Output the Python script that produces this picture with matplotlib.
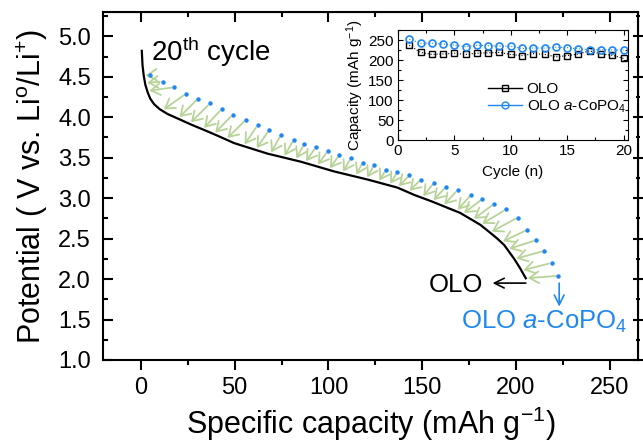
"""20th-cycle discharge curves of OLO with and without a-CoPO4 coating, plus cycling inset."""

import matplotlib

matplotlib.use("Agg")

import matplotlib.pyplot as plt
import numpy as np
from matplotlib.lines import Line2D
from matplotlib.patches import FancyArrowPatch
from matplotlib.ticker import FormatStrFormatter, MultipleLocator

plt.rcParams["font.family"] = "Liberation Sans"
plt.rcParams["mathtext.fontset"] = "custom"
plt.rcParams["mathtext.rm"] = "Liberation Sans"
plt.rcParams["mathtext.it"] = "Liberation Sans:italic"
plt.rcParams["mathtext.bf"] = "Liberation Sans:bold"

# 20th discharge, bare OLO (black line)
olo_capacity = [0.5, 0.9, 1.5, 2.4, 3.6, 5.0, 7.1, 10.0, 14.2, 20.0, 26.7, 35.0, 42.0,
                49.7, 67.5, 85.3, 103.0, 120.8, 136.8, 145.7, 155.0, 163.5, 170.0, 175.9,
                181.0, 185.8, 190.0, 193.7, 196.5, 199.0, 202.0, 205.2]
olo_voltage = [4.82, 4.64, 4.52, 4.40, 4.31, 4.23, 4.16, 4.10, 4.04, 3.98, 3.91, 3.83, 3.76,
               3.68, 3.55, 3.45, 3.33, 3.23, 3.13, 3.04, 2.96, 2.88, 2.82, 2.74,
               2.67, 2.58, 2.50, 2.42, 2.33, 2.25, 2.14, 2.01]

# 20th discharge, a-CoPO4 coated OLO (blue dots)
coated_capacity = [5.0, 11.6, 17.8, 24.0, 30.5, 36.8, 43.0, 48.9, 56.0, 62.2, 68.4, 74.6,
                   81.4, 87.0, 93.3, 99.5, 105.7, 111.9, 118.2, 124.4, 130.6, 136.8, 143.0,
                   149.2, 156.3, 162.6, 168.8, 175.9, 182.1, 188.3, 194.6, 200.8, 206.1,
                   210.6, 215.0, 218.9, 222.6]
coated_voltage = [4.52, 4.44, 4.37, 4.29, 4.23, 4.17, 4.10, 4.03, 3.97, 3.90, 3.84, 3.78,
                  3.72, 3.67, 3.63, 3.58, 3.53, 3.49, 3.44, 3.41, 3.35, 3.32, 3.28,
                  3.23, 3.19, 3.14, 3.10, 3.04, 2.99, 2.93, 2.86, 2.76, 2.61,
                  2.48, 2.35, 2.20, 2.04]

# inset: discharge capacity vs cycle
cycles = list(range(1, 21))
olo_cycling = [237, 219, 214, 215, 217, 214, 217, 218, 219, 214,
               211, 216, 214, 208, 211, 215, 223, 215, 212, 204]
coated_cycling = [252, 242, 242, 240, 237, 233, 237, 236, 235, 234,
                  229, 230, 230, 232, 231, 228, 226, 226, 225, 225]

BLUE = "#1e88f0"
GREEN = "#b8d398"


def _draw_shift_arrows(axis, start_x, start_y, curve_x, curve_y, y_weight=1.5):
    to_pixels = axis.transData
    curve = to_pixels.transform(np.column_stack([curve_x, curve_y]))
    dense = np.vstack(
        [np.linspace(curve[i], curve[i + 1], 25, endpoint=False) for i in range(len(curve) - 1)]
        + [curve[-1:]]
    )
    starts = to_pixels.transform(np.column_stack([start_x, start_y]))
    for start in starts:
        gap = dense - start
        distance = gap[:, 0] ** 2 + (y_weight * gap[:, 1]) ** 2
        end = dense[np.argmin(distance)]
        begin, finish = to_pixels.inverted().transform([start, end])
        axis.add_patch(
            FancyArrowPatch(
                begin,
                finish,
                arrowstyle="->,head_length=0.55,head_width=0.35",
                mutation_scale=12,
                color=GREEN,
                lw=1.3,
                shrinkA=2,
                shrinkB=1.5,
                zorder=2,
            )
        )


fig = plt.figure(figsize=(6.43, 4.41), dpi=100)
ax = fig.add_axes([0.1607, 0.1837, 0.8315, 0.7891])
ax.set_xlim(-20, 265)
ax.set_ylim(1.0, 5.3)

ax.plot(olo_capacity, olo_voltage, color="black", lw=1.6, zorder=3)
ax.plot(coated_capacity, coated_voltage, ls="none", marker="o", ms=2.2,
        color=BLUE, mec=BLUE, zorder=4)
_draw_shift_arrows(ax, coated_capacity, coated_voltage, olo_capacity, olo_voltage)

ax.text(5.3, 4.69, r"20$^{\rm th}$ cycle", fontsize=20, va="baseline", ha="left")

ax.annotate("", xy=(187.5, 1.95), xytext=(205.2, 1.95),
            arrowprops=dict(arrowstyle="->,head_length=0.5,head_width=0.25",
                            mutation_scale=14, color="black", lw=1.2,
                            shrinkA=0, shrinkB=0))
ax.text(182.3, 1.845, "OLO", fontsize=18.5, ha="right", va="baseline")
ax.annotate("", xy=(223.0, 1.66), xytext=(223.0, 1.95),
            arrowprops=dict(arrowstyle="->,head_length=0.5,head_width=0.25",
                            mutation_scale=14, color=BLUE, lw=1.2,
                            shrinkA=0, shrinkB=0))
ax.text(170.9, 1.39, r"OLO $a$-CoPO$_4$", fontsize=18.5, color=BLUE,
        ha="left", va="baseline")

ax.set_xlabel(r"Specific capacity (mAh g$^{-1}$)", fontsize=22, labelpad=4)
ax.set_ylabel(r"Potential ( V vs. Li$^{\rm o}$/Li$^{+}$)", fontsize=22, labelpad=6)
ax.xaxis.set_major_locator(MultipleLocator(50))
ax.xaxis.set_minor_locator(MultipleLocator(25))
ax.yaxis.set_major_locator(MultipleLocator(0.5))
ax.yaxis.set_minor_locator(MultipleLocator(0.25))
ax.yaxis.set_major_formatter(FormatStrFormatter("%.1f"))
ax.tick_params(axis="x", which="major", direction="out", length=7, width=1.5,
               labelsize=17, pad=5)
ax.tick_params(axis="x", which="minor", direction="out", length=3.5, width=1.5)
ax.tick_params(axis="y", which="major", direction="in", length=7, width=1.5,
               labelsize=17, pad=9)
ax.tick_params(axis="y", which="minor", direction="in", length=3.5, width=1.5)
for spine in ax.spines.values():
    spine.set_linewidth(1.5)

top = ax.secondary_xaxis("top")
top.xaxis.set_major_locator(MultipleLocator(50))
top.xaxis.set_minor_locator(MultipleLocator(25))
top.tick_params(which="major", direction="in", length=7, width=1.5, labeltop=False)
top.tick_params(which="minor", direction="in", length=3.5, width=1.5)
right = ax.secondary_yaxis("right")
right.yaxis.set_major_locator(MultipleLocator(0.5))
right.yaxis.set_minor_locator(MultipleLocator(0.25))
right.tick_params(which="major", direction="inout", length=7, width=1.5, labelright=False)
right.tick_params(which="minor", direction="inout", length=3.5, width=1.5)

# inset
inset = fig.add_axes([0.619, 0.6825, 0.3577, 0.2494])
inset.plot(cycles, olo_cycling, ls=":", lw=0.8, color="black", marker="s", ms=4.5,
           mfc="none", mec="black", mew=1.0)
inset.plot(cycles, coated_cycling, ls=":", lw=0.8, color=BLUE, marker="o", ms=5,
           mfc="none", mec=BLUE, mew=1.2)
inset.set_xlim(0, 20.4)
inset.set_ylim(0, 275)
inset.xaxis.set_major_locator(MultipleLocator(5))
inset.xaxis.set_minor_locator(MultipleLocator(2.5))
inset.yaxis.set_major_locator(MultipleLocator(50))
inset.yaxis.set_minor_locator(MultipleLocator(25))
inset.tick_params(which="both", direction="in", top=True, right=True, width=0.8,
                  labelsize=11, pad=3)
inset.tick_params(which="major", length=3.5)
inset.tick_params(which="minor", length=2)
for spine in inset.spines.values():
    spine.set_linewidth(0.8)
inset.set_xlabel("Cycle (n)", fontsize=11, labelpad=5)
inset.set_ylabel(r"Capacity (mAh g$^{-1}$)", fontsize=11, labelpad=2)
handles = [
    Line2D([], [], color="black", lw=1.0, marker="s", ms=4.5, mfc="none", mec="black"),
    Line2D([], [], color=BLUE, lw=1.0, marker="o", ms=5, mfc="none", mec=BLUE),
]
inset.legend(handles, ["OLO", r"OLO $a$-CoPO$_4$"], loc="center left",
             bbox_to_anchor=(0.36, 0.38), frameon=False, fontsize=11,
             handlelength=2.2, handletextpad=0.3, labelspacing=0.15, borderpad=0)

fig.savefig("out.png", dpi=100)
